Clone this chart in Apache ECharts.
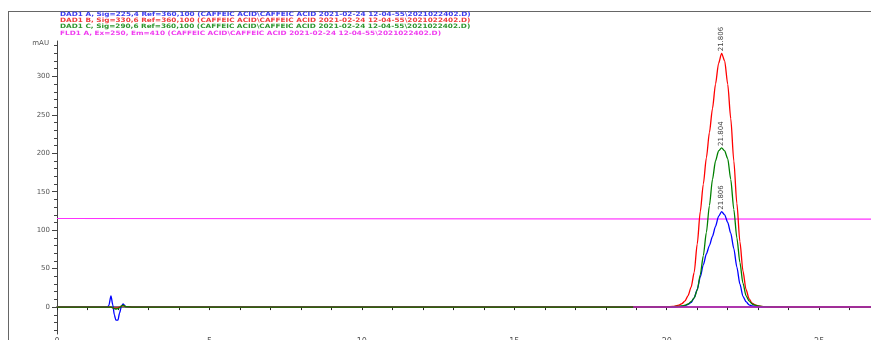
<!DOCTYPE html>
<html>
<head>
<meta charset="utf-8">
<script src="https://cdn.jsdelivr.net/npm/echarts@6/dist/echarts.min.js"></script>
<style>
  html, body { margin: 0; padding: 0; background: #fff; }
  #chart { width: 871px; height: 340px; }
</style>
</head>
<body>
<div id="chart"></div>
<script>
// Retention time (min) shared by the three DAD traces
const timeMin = [
  0, 1.5, 1.65, 1.70, 1.77, 1.83, 1.88, 1.93, 2.00, 2.05, 2.12, 2.17, 2.26, 2.5,
  10, 19,
  20.0, 20.2, 20.4, 20.5, 20.6, 20.7, 20.8, 20.9, 21.0, 21.1, 21.2, 21.3, 21.4,
  21.5, 21.6, 21.7, 21.8, 21.9, 22.0, 22.1, 22.2, 22.3, 22.4, 22.5, 22.6, 22.7,
  22.8, 22.9, 23.0, 23.2, 23.5, 24.0, 26.7
];

// DAD1 A, 225 nm (mAU)
const dadA = [
  0, 0, 0, 2, 14.7, 3, -10, -17, -17, -8, 2, 4, 0.5, 0,
  0, 0,
  0.1, 0.3, 0.8, 1.3, 2, 3.5, 6, 12, 23, 39, 55, 69, 80,
  92, 105, 118, 124, 120, 110, 96, 76, 52, 30, 14, 7, 3,
  1.5, 0.9, 0.5, 0.2, 0.1, 0, 0
];

// DAD1 B, 330 nm (mAU)
const dadB = [
  0, 0, 0, 0, 0, -1, -1.5, -1.5, -1, 0, 1.5, 2, 0.5, 0,
  0, 0,
  0.3, 0.8, 2.5, 4.5, 8, 15, 26, 45, 82, 124, 160, 194, 227,
  258, 290, 317, 330, 320, 290, 245, 190, 135, 85, 47, 23, 11,
  5, 2.8, 1.5, 0.6, 0.3, 0.1, 0
];

// DAD1 C, 290 nm (mAU)
const dadC = [
  0, 0, 0, 0, 0, -1, -2, -2.5, -2, -1, 1.5, 2.5, 0.5, 0,
  0, 0,
  0.2, 0.5, 1, 1.6, 2.5, 4, 7, 12, 22, 42, 67, 97, 132,
  166, 190, 203, 207, 203, 193, 166, 127, 90, 58, 31, 15, 8,
  4, 2.5, 1.5, 0.6, 0.3, 0.1, 0
];

// FLD1 A trace
const fldTime = [0, 26.7];
const fldA = [115.2, 114.3];
const fldBaseTime = [18.9, 26.7];
const fldBase = [0, 0];

const signalTitles = [
  'DAD1 A, Sig=225,4 Ref=360,100 (CAFFEIC ACID\\CAFFEIC ACID 2021-02-24 12-04-55\\2021022402.D)',
  'DAD1 B, Sig=330,6 Ref=360,100 (CAFFEIC ACID\\CAFFEIC ACID 2021-02-24 12-04-55\\2021022402.D)',
  'DAD1 C, Sig=290,6 Ref=360,100 (CAFFEIC ACID\\CAFFEIC ACID 2021-02-24 12-04-55\\2021022402.D)',
  'FLD1 A, Ex=250, Em=410 (CAFFEIC ACID\\CAFFEIC ACID 2021-02-24 12-04-55\\2021022402.D)'
];

const peakRtA = '21.806';
const peakRtB = '21.806';
const peakRtC = '21.804';

const yLabelValues = [0, 50, 100, 150, 200, 250, 300];
const yMinorTicks = [-30, -20, -10, 10, 20, 30, 40, 60, 70, 80, 90, 110, 120, 130, 140,
  160, 170, 180, 190, 210, 220, 230, 240, 260, 270, 280, 290, 310, 320, 330, 340];
const xLabelValues = [0, 5, 10, 15, 20, 25];

const COLORS = { A: '#0000ff', B: '#ff0000', C: '#008000', F: '#ff30ff', FB: '#c020c0' };
const TITLE_COLORS = ['#3c3cf0', '#f03c3c', '#2e962e', '#f03cf0'];
const TITLE_Y = [14.7, 20.3, 26, 33.7];

// Build [t, y] pairs; the apex gets a vertical retention-time label
function traceData(times, vals, rtText) {
  let apex = 0;
  vals.forEach((v, i) => { if (v > vals[apex]) apex = i; });
  return times.map((t, i) => {
    if (rtText && i === apex) {
      return {
        value: [t, vals[i]],
        label: {
          show: true, formatter: rtText, position: 'top', rotate: 90,
          align: 'left', verticalAlign: 'middle', distance: 2,
          fontSize: 7, color: '#444', fontFamily: 'DejaVu Sans'
        }
      };
    }
    return [t, vals[i]];
  });
}

function lineSeries(name, data, color, z, width, smooth) {
  return {
    name, type: 'line', data,
    showSymbol: true, showAllSymbol: true, symbol: 'circle', symbolSize: 0,
    smooth: smooth || false, smoothMonotone: 'x',
    label: { show: false },
    lineStyle: { color, width: width || 1.3 }, itemStyle: { color }, z,
    emphasis: { disabled: true }, silent: true
  };
}

const chart = echarts.init(document.getElementById('chart'), null, { renderer: 'canvas' });

// Signal headers: short, wide lettering
const titleGraphics = signalTitles.map((txt, i) => ({
  type: 'text', x: 60, y: TITLE_Y[i], scaleX: 1.22,
  style: {
    text: txt, fill: TITLE_COLORS[i], fontSize: 6, fontWeight: 'bold',
    fontFamily: 'DejaVu Sans', verticalAlign: 'middle'
  }
}));

const gridBox = { left: 57, right: 0, top: 41, bottom: 6, containLabel: false, outerBoundsMode: 'none' };

chart.setOption({
  animation: false,
  backgroundColor: '#fff',
  grid: [gridBox, Object.assign({}, gridBox)],
  xAxis: [
    {
      type: 'value', min: 0, max: 26.7, interval: 1, gridIndex: 0,
      axisLine: { show: true, lineStyle: { color: '#7a7a7a', width: 2 } },
      axisTick: { show: true, length: 3, lineStyle: { color: '#222' } },
      axisLabel: { customValues: xLabelValues, fontSize: 8, color: '#555', margin: 4, fontFamily: 'DejaVu Sans' },
      splitLine: { show: false }
    },
    {
      type: 'value', min: 0, max: 26.7, gridIndex: 1, show: false
    }
  ],
  yAxis: [
    {
      type: 'value', min: -35, max: 346, gridIndex: 0,
      name: 'mAU', nameLocation: 'end', nameGap: -2,
      nameTextStyle: { fontSize: 7, color: '#555', align: 'right', verticalAlign: 'middle', padding: [0, 8, 0, 0], fontFamily: 'DejaVu Sans' },
      axisLine: { show: true, lineStyle: { color: '#444', width: 1 } },
      axisTick: { show: true, customValues: yLabelValues, length: 5, lineStyle: { color: '#444' } },
      axisLabel: { customValues: yLabelValues, fontSize: 7, color: '#555', margin: 7, fontFamily: 'DejaVu Sans' },
      splitLine: { show: false }
    },
    {
      // minor ticks every 10 mAU on a twin grid
      type: 'value', min: -35, max: 346, gridIndex: 1, position: 'left',
      axisLine: { show: false },
      axisTick: { show: true, customValues: yMinorTicks, length: 3, lineStyle: { color: '#444' } },
      axisLabel: { show: false },
      splitLine: { show: false }
    }
  ],
  series: [
    lineSeries('FLD1 A', fldTime.map((t, i) => [t, fldA[i]]), COLORS.F, 2, 1.2),
    lineSeries('DAD1 A', traceData(timeMin, dadA, peakRtA), COLORS.A, 3, 1.3, 0.25),
    lineSeries('DAD1 B', traceData(timeMin, dadB, peakRtB), COLORS.B, 4, 1.3, 0.25),
    lineSeries('DAD1 C', traceData(timeMin, dadC, peakRtC), COLORS.C, 5, 1.3, 0.25),
    lineSeries('FLD1 A base', fldBaseTime.map((t, i) => [t, fldBase[i]]), COLORS.FB, 6, 1.5)
  ],
  graphic: [
    { type: 'line', shape: { x1: 8, y1: 11.5, x2: 871, y2: 11.5 }, style: { stroke: '#666', lineWidth: 1 } },
    { type: 'line', shape: { x1: 8.5, y1: 11, x2: 8.5, y2: 340 }, style: { stroke: '#666', lineWidth: 1 } },
    ...titleGraphics
  ]
});
</script>
</body>
</html>
